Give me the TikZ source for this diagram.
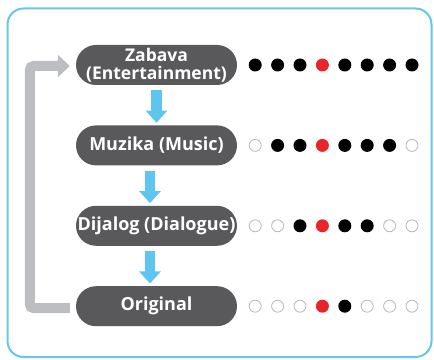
\documentclass[tikz,border=0pt]{standalone}
\usepackage{fontspec}
\setmainfont{Open Sans}
\usepackage{tikz}
\usetikzlibrary{arrows.meta,calc,positioning}
\definecolor{frameblue}{HTML}{66C6EE}
\definecolor{flowblue}{HTML}{5EC5EF}
\definecolor{boxgray}{HTML}{59595B}
\definecolor{loopgray}{HTML}{BDBEC1}
\definecolor{dotred}{HTML}{E8262A}
\definecolor{ringgray}{HTML}{B8B8B8}

\tikzset{
  level/.style={draw=none,fill=boxgray,text=white,rounded corners=20pt,
    minimum width=161pt,minimum height=40pt,inner sep=1pt,align=center,
    font=\bfseries\fontsize{18}{18}\selectfont},
  flow/.style={flowblue,line width=10.5pt,shorten <=5pt,shorten >=2.5pt,
    -{Triangle[width=21pt,length=12pt]}},
  loopback/.style={loopgray,line width=10pt,rounded corners=4pt,
    -{Triangle[width=22pt,length=12pt]}},
  dotb/.style={circle,inner sep=0pt,minimum size=13pt,fill=black},
  dotr/.style={circle,inner sep=0pt,minimum size=13pt,fill=dotred},
  doto/.style={circle,inner sep=0pt,minimum size=12pt,fill=white,draw=ringgray,line width=0.8pt},
}

\begin{document}
\begin{tikzpicture}[x=1pt,y=1pt]
\useasboundingbox (0,0) rectangle (434,359);
% frame
\draw[frameblue,line width=2pt,rounded corners=16pt] (7.5,2) rectangle (431.5,350.5);

% levels
\node[level,font=\bfseries\fontsize{17.5}{18}\selectfont] (Z) at (156.5,294) {Zabava\\(Entertainment)};
\node[level,below=40pt of Z] (M) {Muzika (Music)};
\node[level,below=40pt of M] (D) {Dijalog (Dialogue)};
\node[level,below=40pt of D] (O) {Original};

% arrows
\draw[flow] (Z.south) -- (M.north);
\draw[flow] ([xshift=-6.5pt]M.south) -- ([xshift=-6.5pt]D.north);
\draw[flow] ([xshift=-6.5pt]D.south) -- ([xshift=-6.5pt]O.north);
\draw[loopback] ([xshift=-6pt,yshift=-2pt]O.west) -- ++(-40,0) |- ([xshift=-6pt,yshift=-1pt]Z.west);

% dots
\foreach \c [count=\i] in {b,b,b,r,b,b,b,b}
  \node[dot\c] (Z\i) at ($(Z.east)+({18+(\i-1)*22.4},0)$) {};
\foreach \c [count=\i] in {o,b,b,r,b,b,b,o}
  \node[dot\c] (M\i) at ($(M.east)+({18+(\i-1)*22.4},0)$) {};
\foreach \c [count=\i] in {o,o,b,r,b,b,o,o}
  \node[dot\c] (D\i) at ($(D.east)+({18+(\i-1)*22.4},0)$) {};
\foreach \c [count=\i] in {o,o,o,r,b,o,o,o}
  \node[dot\c] (O\i) at ($(O.east)+({18+(\i-1)*22.4},0)$) {};
\end{tikzpicture}
\end{document}
